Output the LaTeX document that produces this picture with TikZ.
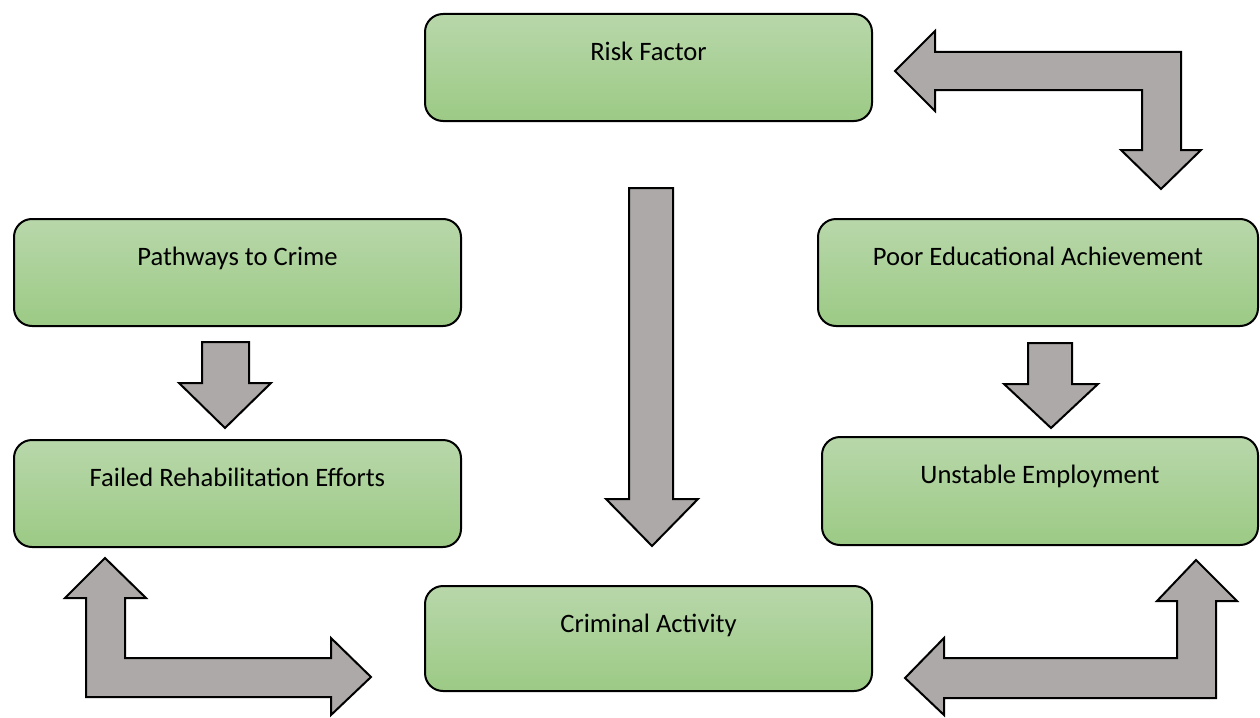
\documentclass[tikz,border=0pt]{standalone}
\usepackage{fontspec}
\setmainfont{Carlito}
\definecolor{gtop}{RGB}{184,215,170}
\definecolor{gbot}{RGB}{156,202,133}
\definecolor{arrowgray}{RGB}{173,169,168}
\tikzset{
  box/.style={draw=black, line width=2pt, rounded corners=18pt, top color=gtop, bottom color=gbot, inner sep=0pt},
  lbl/.style={anchor=base, inner sep=0pt, font=\fontsize{26.6}{31}\selectfont, text=black},
  blockarrow/.style={draw=black, line width=2pt, fill=arrowgray, line join=miter}
}
\begin{document}
\begin{tikzpicture}[x=1pt, y=-1pt]
\useasboundingbox (0,0) rectangle (1260,717);
% boxes
\node[box, minimum width=447pt, minimum height=107pt] (rf) at (648.5,67.5) {};
\node[box, minimum width=447pt, minimum height=107pt] (pc) at (237.5,272.5) {};
\node[box, minimum width=440pt, minimum height=107pt] (pe) at (1038,272.5) {};
\node[box, minimum width=447pt, minimum height=107pt] (fr) at (237.5,493.5) {};
\node[box, minimum width=436pt, minimum height=108pt] (ue) at (1040,491) {};
\node[box, minimum width=447pt, minimum height=105pt] (ca) at (648.5,638.5) {};
% labels
\node[lbl] (rft) at ([yshift=-47pt]rf.north) {Risk Factor};
\node[lbl] (pct) at ([yshift=-47pt]pc.north) {Pathways to Crime};
\node[lbl] (pet) at ([yshift=-47pt]pe.north) {Poor Educational Achievement};
\node[lbl] (frt) at ([yshift=-47pt]fr.north) {Failed Rehabilitation Efforts};
\node[lbl] (uet) at ([yshift=-47pt]ue.north) {Unstable Employment};
\node[lbl] (cat) at ([yshift=-47pt]ca.north) {Criminal Activity};
% block arrows
\draw[blockarrow] (895,71) -- (935,31) -- (935,52) -- (1181,52) -- (1181,150) -- (1201,150) -- (1161,189) -- (1121,150) -- (1142,150) -- (1142,90) -- (935,90) -- (935,111) -- cycle;
\draw[blockarrow] (629,188) -- (673,188) -- (673,499) -- (698,499) -- (652,546) -- (606,499) -- (629,499) -- cycle;
\draw[blockarrow] (202,342) -- (249,342) -- (249,383) -- (271,383) -- (225,428) -- (179,383) -- (202,383) -- cycle;
\draw[blockarrow] (1028,343) -- (1072,343) -- (1072,384) -- (1098,384) -- (1051,428) -- (1004,384) -- (1028,384) -- cycle;
\draw[blockarrow] (105,558) -- (146,598) -- (125,598) -- (125,658) -- (331,658) -- (331,638) -- (371,677) -- (331,715) -- (331,697) -- (86,697) -- (86,598) -- (65,598) -- cycle;
\draw[blockarrow] (1196,560) -- (1237,601) -- (1216,601) -- (1216,698) -- (944,698) -- (944,715) -- (905,678) -- (944,638) -- (944,658) -- (1177,658) -- (1177,601) -- (1157,601) -- cycle;
\end{tikzpicture}
\end{document}
